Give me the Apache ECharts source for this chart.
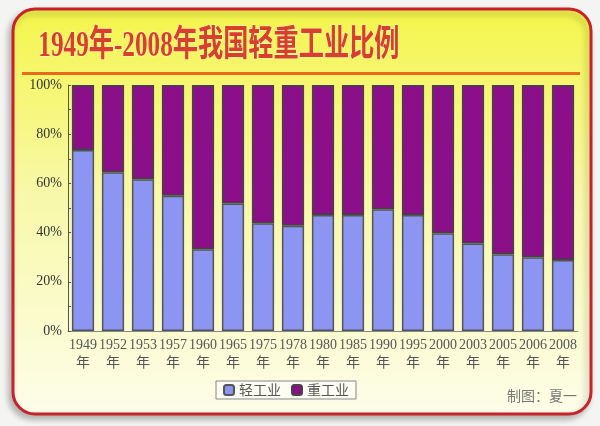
<!DOCTYPE html>
<html>
<head>
<meta charset="utf-8">
<script src="https://cdn.jsdelivr.net/npm/echarts@6/dist/echarts.min.js"></script>
<style>
html, body, #main { margin: 0; padding: 0; width: 600px; height: 426px; overflow: hidden; background: #f4f4f2; }
</style>
</head>
<body>
<div id="main"></div>
<script>
// 年份
const years = ["1949", "1952", "1953", "1957", "1960", "1965", "1975", "1978", "1980",
  "1985", "1990", "1995", "2000", "2003", "2005", "2006", "2008"];
// 轻工业比重 (%)
const light = [73.6, 64.5, 61.7, 55.0, 33.2, 51.8, 43.8, 42.8, 47.2,
  47.2, 49.5, 47.2, 39.7, 35.6, 31.2, 30.0, 28.9];
// 重工业比重 (%)
const heavy = light.map(v => +(100 - v).toFixed(1));
const yTicks = ["0%", "20%", "40%", "60%", "80%", "100%"];
const seriesNames = ["轻工业", "重工业"];

const myChart = echarts.init(document.getElementById("main"));
const serif = "'Liberation Serif', 'DejaVu Serif', 'Noto Sans CJK SC', serif";

const option = {
  animation: false,
  color: ["#8d95f2", "#8b0f88"],
  graphic: [
    // 外框
    {
      type: "rect", z: -10,
      shape: { x: 13, y: 9, width: 578, height: 405, r: 22 },
      style: {
        fill: new echarts.graphic.LinearGradient(0, 0, 0, 1, [
          { offset: 0, color: "#f4f54a" },
          { offset: 0.45, color: "#f8f8a8" },
          { offset: 1, color: "#fdfdea" },
        ]),
        stroke: "#c8222a", lineWidth: 3,
        shadowBlur: 6, shadowOffsetX: -3, shadowOffsetY: 4, shadowColor: "rgba(0,0,0,0.25)",
      },
    },
    // 标题下的线
    {
      type: "rect", z: -5,
      shape: { x: 22, y: 72, width: 558, height: 3 },
      style: { fill: "#e8681c" },
    },
    {
      type: "text", left: 38, top: 28, scaleX: 0.7,
      style: {
        text: "1949年-2008年我国轻重工业比例",
        font: "bold 36px 'Liberation Serif', 'Noto Sans CJK SC', serif",
        fill: "#d8402c",
        stroke: "#fff6d0", lineWidth: 1,
        shadowBlur: 2, shadowOffsetX: 2, shadowOffsetY: 2, shadowColor: "rgba(120,60,0,0.35)",
      },
    },
    {
      type: "text", left: 507, top: 389,
      style: { text: "制图：夏一", font: "14px 'Noto Sans CJK SC', sans-serif", fill: "#777" },
    },
  ],
  legend: {
    data: seriesNames,
    top: 381,
    left: 216,
    itemWidth: 10,
    itemHeight: 10,
    itemGap: 10,
    padding: [2, 7],
    borderColor: "#888",
    borderWidth: 1,
    backgroundColor: "#fdfdf3",
    textStyle: { color: "#555", fontSize: 14, fontFamily: "'Noto Sans CJK SC', sans-serif" },
  },
  grid: { left: 68, right: 22, top: 85, bottom: 95 },
  xAxis: {
    type: "category",
    data: years,
    axisTick: { show: false },
    axisLine: { lineStyle: { color: "#888" } },
    axisLabel: {
      interval: 0,
      margin: 5,
      color: "#555",
      fontSize: 14,
      lineHeight: 18,
      fontFamily: serif,
      formatter: v => v + "\n年",
    },
  },
  yAxis: {
    type: "value",
    min: 0, max: 100, interval: 20,
    splitLine: { show: false },
    axisLine: { show: true, lineStyle: { color: "#555" } },
    axisTick: { show: true, length: 3, inside: true, lineStyle: { color: "#555" } },
    minorTick: { show: true, splitNumber: 2, length: 3, lineStyle: { color: "#555" } },
    axisLabel: {
      color: "#333",
      fontSize: 14,
      margin: 6,
      fontFamily: serif,
      formatter: v => yTicks[v / 20],
    },
  },
  series: [
    {
      name: seriesNames[0], type: "bar", stack: "total",
      barCategoryGap: "26%",
      itemStyle: { borderColor: "#555", borderWidth: 1.5 },
      data: light,
    },
    {
      name: seriesNames[1], type: "bar", stack: "total",
      itemStyle: { borderColor: "#444", borderWidth: 1.5 },
      data: heavy,
    },
  ],
};
myChart.setOption(option);
</script>
</body>
</html>
